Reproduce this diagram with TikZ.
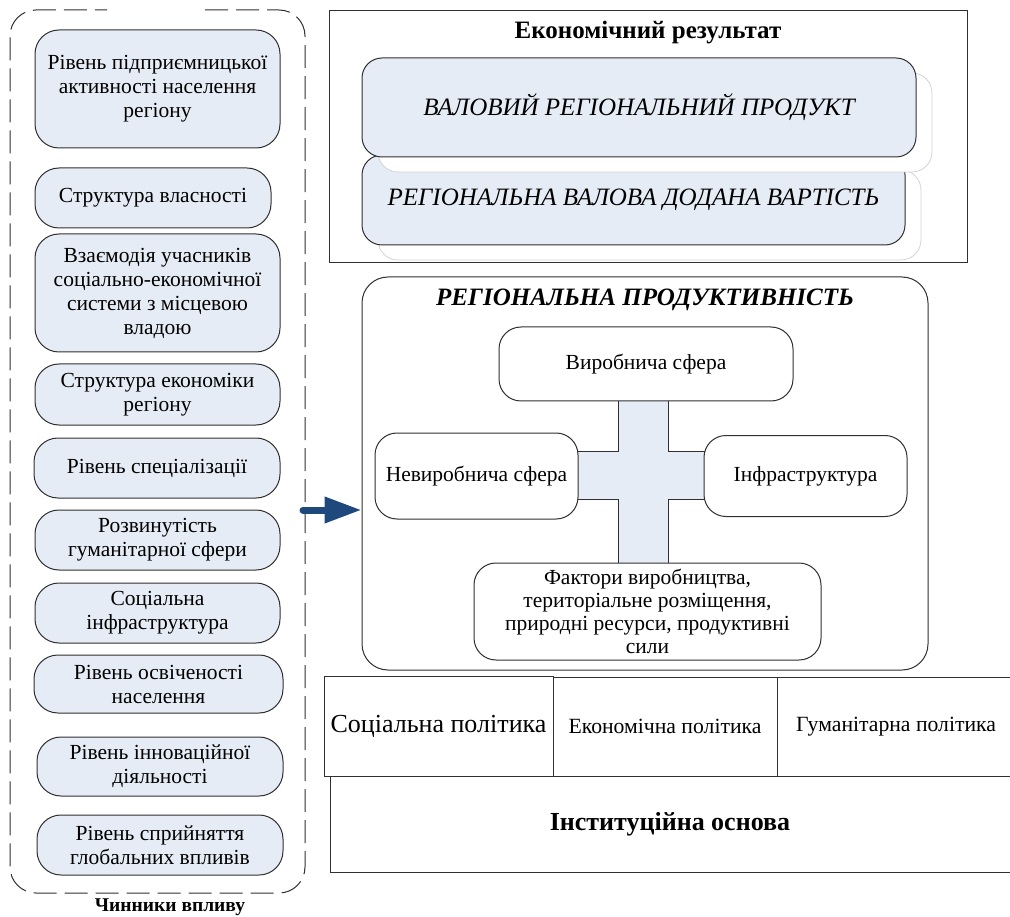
\documentclass[tikz,border=0pt]{standalone}
\usepackage{fontspec}
\setmainfont{Liberation Serif}
\usetikzlibrary{arrows.meta,calc}
\definecolor{boxblue}{HTML}{E6ECF6}
\definecolor{linegray}{HTML}{303030}
\definecolor{ghostgray}{HTML}{D4D4D4}
\definecolor{arrowblue}{HTML}{1F497D}
\newcommand\fsz[2]{\fontsize{#1}{#2}\selectfont}
\begin{document}
\begin{tikzpicture}[x=1pt,y=-1pt,
  lbox/.style={draw=linegray, line width=1pt, fill=boxblue, rounded corners=24pt,
    align=center, inner sep=0pt, font=\fsz{21.5}{24}},
  wbox/.style={draw=linegray, line width=1pt, fill=white, rounded corners=22pt,
    align=center, inner sep=0pt, font=\fsz{21.5}{23}},
  bigbox/.style={draw=linegray, line width=1pt, fill=boxblue, rounded corners=20pt,
    align=center, inner sep=0pt, font=\fsz{25}{29}\itshape},
  ghostbox/.style={draw=ghostgray, line width=0.8pt, fill=white, rounded corners=20pt, inner sep=0pt},
  plainbox/.style={draw=linegray, line width=1pt, fill=white, align=center, inner sep=0pt},
  dashedframe/.style={draw=linegray, line width=1pt, dash pattern=on 23pt off 8pt, rounded corners=26pt},
  bigarrow/.style={draw=arrowblue, line width=7pt, line cap=round, -{Triangle[length=37pt,width=25pt]}}
]
\useasboundingbox (0,0) rectangle (1010,917);

% ---------- left column: factors of influence ----------
\draw[dashedframe] (205,10) -- (305,10) -- (305,893) -- (10,893) -- (10,10) -- (107,10);
\node[font=\fsz{19.5}{22}\bfseries] (factitle) at (170,907) {Чинники впливу};

\node[lbox, minimum width=245pt, minimum height=118pt] (f1) at (157.5,89) {Рівень підприємницької\\активності населення\\регіону};
\node[lbox, minimum width=236pt, minimum height=60pt] (f2) at (153,198) {Структура власності};
\node[lbox, minimum width=245pt, minimum height=118pt] (f3) at (157.5,293) {Взаємодія учасників\\соціально-економічної\\системи з місцевою\\владою};
\node[lbox, minimum width=245pt, minimum height=61pt] (f4) at (157.5,394.5) {Структура економіки\\регіону};
\node[lbox, minimum width=246pt, minimum height=60pt] (f5) at (157,468) {Рівень спеціалізації};
\node[lbox, minimum width=245pt, minimum height=60pt] (f6) at (157.5,540) {Розвинутість\\гуманітарної сфери};
\node[lbox, minimum width=245pt, minimum height=60pt] (f7) at (157.5,613) {Соціальна\\інфраструктура};
\node[lbox, minimum width=249pt, minimum height=58pt] (f8) at (158.5,684) {Рівень освіченості\\населення};
\node[lbox, minimum width=246pt, minimum height=59pt] (f9) at (160,766.5) {Рівень інноваційної\\діяльності};
\node[lbox, minimum width=246pt, minimum height=60pt] (f10) at (160,845) {Рівень сприйняття\\глобальних впливів};

% ---------- economic result ----------
\node[plainbox, minimum width=638pt, minimum height=252pt] (econ) at (648,137) {};
\node[font=\fsz{25}{29}\bfseries] (econtitle) at (648,33) {Економічний результат};
\node[ghostbox, minimum width=543pt, minimum height=90pt] (gB) at (649.5,215) {};
\node[bigbox, minimum width=543pt, minimum height=90pt] (rvda) at (633.5,200) {РЕГІОНАЛЬНА ВАЛОВА ДОДАНА ВАРТІСТЬ};
\node[ghostbox, minimum width=554pt, minimum height=99pt] (gA) at (655,122.5) {};
\node[bigbox, minimum width=554pt, minimum height=99pt] (vrp) at (639,107.5) {ВАЛОВИЙ РЕГІОНАЛЬНИЙ ПРОДУКТ};

% ---------- regional productivity ----------
\node[draw=linegray, line width=1pt, fill=white, rounded corners=26pt, minimum width=566pt, minimum height=393pt, inner sep=0pt] (prod) at (645,473.5) {};
\node[font=\fsz{25}{29}\bfseries\itshape] (prodtitle) at (645,300) {РЕГІОНАЛЬНА ПРОДУКТИВНІСТЬ};

\filldraw[draw=linegray, line width=1pt, fill=boxblue]
  (618,390) -- (668,390) -- (668,451) -- (720,451) -- (720,499) -- (668,499)
  -- (668,575) -- (618,575) -- (618,499) -- (560,499) -- (560,451) -- (618,451) -- cycle;

\node[wbox, minimum width=294pt, minimum height=74pt] (prodsph) at (646,364) {Виробнича сфера};
\node[wbox, minimum width=203pt, minimum height=86pt] (nonprod) at (476.5,476) {Невиробнича сфера};
\node[wbox, minimum width=203pt, minimum height=81pt] (infra) at (805.5,476) {Інфраструктура};
\node[wbox, minimum width=347pt, minimum height=97pt] (factors) at (647.5,611.5) {Фактори виробництва,\\територіальне розміщення,\\природні ресурси, продуктивні\\сили};

% ---------- arrow ----------
\coordinate (arrs) at (303,510);
\draw[bigarrow] (arrs) -- (arrs -| prod.west);

% ---------- policies and institutional basis ----------
\node[plainbox, minimum width=685pt, minimum height=96pt, font=\fsz{26}{30}\bfseries] (inst) at (672.5,824) {\hspace*{-5pt}Інституційна основа};
\node[plainbox, minimum width=229pt, minimum height=100pt, font=\fsz{26}{30}] (soc) at (438.5,726) {Соціальна політика};
\node[plainbox, minimum width=224pt, minimum height=99pt, font=\fsz{21.7}{25}] (ecpol) at (665,726.5) {Економічна політика};
\node[plainbox, minimum width=238pt, minimum height=99pt, font=\fsz{21.7}{25}] (humpol) at (896,726.5) {Гуманітарна політика};
\end{tikzpicture}
\end{document}
